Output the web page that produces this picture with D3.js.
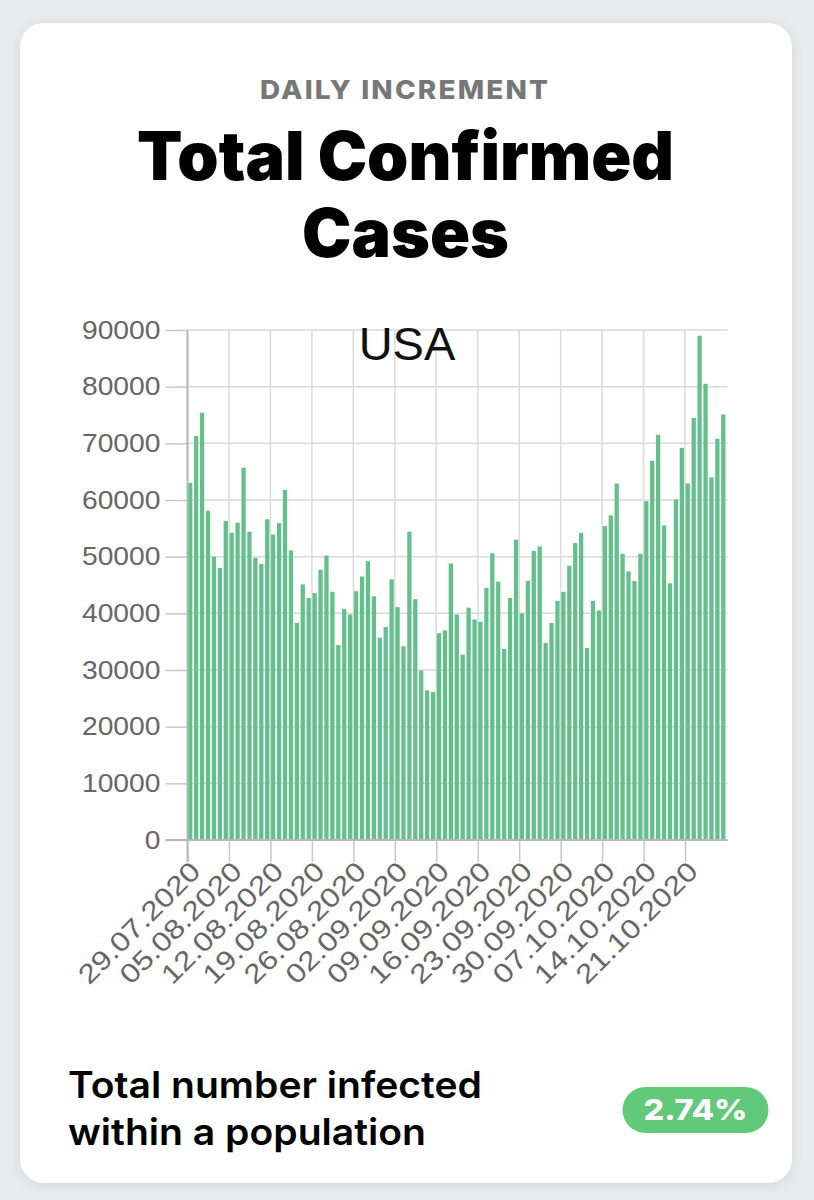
<!DOCTYPE html>
<meta charset="utf-8">
<style>
body { margin: 0; background: #e9ebec; }
svg { display: block; }
.axis text { font: 25px "Liberation Sans", Arial, sans-serif; fill: #666; }
.xaxis text { font-size: 27px; }
.axis .domain { display: none; }
.axis line { stroke: #c8c8c8; stroke-width: 1.5; }
.grid line { stroke: #dadada; stroke-width: 1.5; }
</style>
<svg width="814" height="1200"></svg>
<script src="https://d3js.org/d3.v7.min.js"></script>
<script>

// values (daily new cases, USA)
var startDate = "29.07.2020";
var cases = [
  63000, 71300, 75400, 58100, 50000, 48000, 56300, 54200, 56000, 65700,
  54400, 49800, 48700, 56600, 53900, 55900, 61800, 51100, 38300, 45100,
  42700, 43600, 47700, 50200, 43800, 34400, 40800, 39800, 43900, 46500,
  49200, 43000, 35700, 37600, 46000, 41100, 34200, 54400, 42500, 29900,
  26400, 26100, 36500, 37000, 48800, 39800, 32700, 41000, 38900, 38500,
  44500, 50600, 45600, 33700, 42700, 53000, 40000, 45700, 51000, 51800,
  34800, 38300, 42200, 43800, 48400, 52400, 54200, 33900, 42200, 40500,
  55400, 57300, 62900, 50500, 47400, 45700, 50500, 59800, 66900, 71500,
  55500, 45300, 60100, 69200, 62900, 74500, 89000, 80500, 64000, 70800,
  75100
];
var tickLabels = ["29.07.2020", "05.08.2020", "12.08.2020", "19.08.2020",
  "26.08.2020", "02.09.2020", "09.09.2020", "16.09.2020", "23.09.2020",
  "30.09.2020", "07.10.2020", "14.10.2020", "21.10.2020"];
var yTicks = [0, 10000, 20000, 30000, 40000, 50000, 60000, 70000, 80000, 90000];
var country = "USA";
var share = "2.74%";

var parseDate = d3.timeParse("%d.%m.%Y");
var start = parseDate(startDate);
var svg = d3.select("svg");

// card with soft shadow
var defs = svg.append("defs");
defs.append("filter").attr("id", "shadow")
  .attr("x", "-10%").attr("y", "-10%").attr("width", "120%").attr("height", "120%")
  .append("feDropShadow")
  .attr("dx", 0).attr("dy", 2).attr("stdDeviation", 6)
  .attr("flood-color", "#000").attr("flood-opacity", 0.10);

svg.append("rect")
  .attr("x", 20).attr("y", 23).attr("width", 772).attr("height", 1160)
  .attr("rx", 24).attr("fill", "#fff")
  .attr("filter", "url(#shadow)");

// headings
function fitText(sel, w) {
  sel.attr("textLength", w).attr("lengthAdjust", "spacingAndGlyphs");
  return sel;
}
// the chart canvas in the picture is stretched sideways a little
function stretch(sel, k) {
  sel.each(function() {
    var w = this.getComputedTextLength();
    d3.select(this).attr("textLength", w * k).attr("lengthAdjust", "spacingAndGlyphs");
  });
}

fitText(svg.append("text")
  .attr("x", 405).attr("y", 99)
  .attr("text-anchor", "middle")
  .style("font", "800 26px Inter, sans-serif")
  .style("letter-spacing", "2px")
  .attr("fill", "#777")
  .text("DAILY INCREMENT"), 290);

fitText(svg.append("text")
  .attr("x", 405.5).attr("y", 180)
  .attr("text-anchor", "middle")
  .style("font", "900 67px Inter, sans-serif")
  .attr("fill", "#000")
  .text("Total Confirmed"), 537);

fitText(svg.append("text")
  .attr("x", 405.5).attr("y", 257)
  .attr("text-anchor", "middle")
  .style("font", "900 67px Inter, sans-serif")
  .attr("fill", "#000")
  .text("Cases"), 207);

// chart
var plotLeft = 187.5, plotRight = 726.5, plotTop = 330, plotBottom = 840;

var x = d3.scaleTime()
  .domain([start, d3.timeDay.offset(start, cases.length)])
  .range([plotLeft, plotRight]);
var y = d3.scaleLinear().domain([0, 90000]).range([plotBottom, plotTop]);
var tickDates = tickLabels.map(parseDate);
var barW = (plotRight - plotLeft) / cases.length * 0.72;

var grid = svg.append("g").attr("class", "grid");
grid.selectAll(".h").data(yTicks).enter().append("line")
  .attr("x1", plotLeft).attr("x2", plotRight + 1)
  .attr("y1", function(d) { return y(d); })
  .attr("y2", function(d) { return y(d); });
grid.selectAll(".v").data(tickDates).enter().append("line")
  .attr("x1", function(d) { return x(d); })
  .attr("x2", function(d) { return x(d); })
  .attr("y1", plotTop).attr("y2", plotBottom);

svg.append("g").selectAll("rect")
  .data(cases)
  .enter().append("rect")
  .attr("x", function(d, i) { return x(d3.timeDay.offset(start, i)) + 0.6; })
  .attr("y", function(d) { return y(d); })
  .attr("width", barW)
  .attr("height", function(d) { return plotBottom - y(d); })
  .attr("fill", "#63c08a");

// axes
var yAxis = svg.append("g")
  .attr("class", "axis")
  .attr("transform", "translate(" + plotLeft + ",0)")
  .call(d3.axisLeft(y).tickValues(yTicks).tickSize(22).tickPadding(5)
    .tickFormat(d3.format("d")));
stretch(yAxis.selectAll("text"), 1.13);

var xAxis = svg.append("g")
  .attr("class", "axis xaxis")
  .attr("transform", "translate(0," + plotBottom + ")")
  .call(d3.axisBottom(x).tickValues(tickDates).tickSize(22)
    .tickFormat(function(d, i) { return tickLabels[i]; }));
xAxis.selectAll("text")
  .attr("x", 0).attr("y", 0).attr("dy", 0)
  .attr("text-anchor", "end")
  .attr("transform", "translate(14,33) rotate(-45)");
stretch(xAxis.selectAll("text"), 1.18);

svg.append("line")
  .attr("x1", plotLeft).attr("x2", plotLeft).attr("y1", plotTop).attr("y2", plotBottom + 22)
  .attr("stroke", "#b8b8b8").attr("stroke-width", 2);
svg.append("line")
  .attr("x1", plotLeft - 22).attr("x2", plotRight + 1).attr("y1", plotBottom).attr("y2", plotBottom)
  .attr("stroke", "#b8b8b8").attr("stroke-width", 2);

svg.append("text")
  .attr("x", 407).attr("y", 360)
  .attr("text-anchor", "middle")
  .style("font", "47px 'Liberation Sans', Arial, sans-serif")
  .attr("fill", "#111")
  .text(country);

// footer
fitText(svg.append("text")
  .attr("x", 68).attr("y", 1098)
  .style("font", "600 37px Inter, sans-serif")
  .attr("fill", "#000")
  .text("Total number infected"), 414);
fitText(svg.append("text")
  .attr("x", 68).attr("y", 1145)
  .style("font", "600 37px Inter, sans-serif")
  .attr("fill", "#000")
  .text("within a population"), 358);

svg.append("rect")
  .attr("x", 622.5).attr("y", 1087).attr("width", 146).attr("height", 46)
  .attr("rx", 23).attr("fill", "#62c97b");
fitText(svg.append("text")
  .attr("x", 695.5).attr("y", 1120)
  .attr("text-anchor", "middle")
  .style("font", "800 29px Inter, sans-serif")
  .attr("fill", "#fff")
  .text(share), 104);

</script>
